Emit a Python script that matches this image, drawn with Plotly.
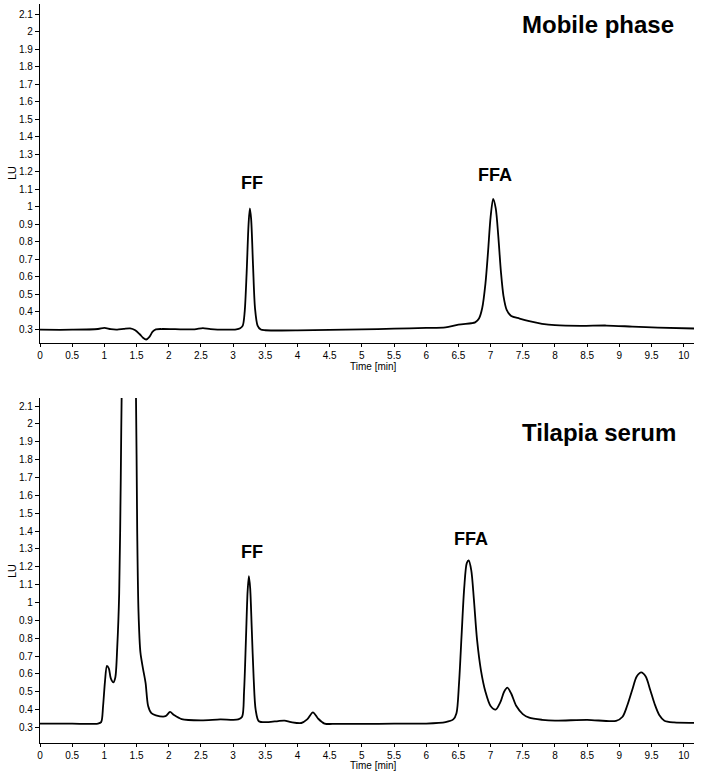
import plotly.graph_objects as go

# --- data (time in min, signal in LU) ---
t_mobile = [0, 0.5, 0.9, 1.0, 1.1, 1.2, 1.3, 1.4, 1.48, 1.55, 1.6, 1.65, 1.7, 1.75, 1.8,
            1.9, 2.1, 2.4, 2.53, 2.65, 2.9, 3.05, 3.11, 3.15, 3.18, 3.21, 3.24, 3.26,
            3.28, 3.31, 3.34, 3.38, 3.43, 3.5, 4.0, 4.5, 5.0, 5.5, 6.0, 6.3, 6.5, 6.7,
            6.76, 6.82, 6.87, 6.92, 6.96, 7.0, 7.04, 7.08, 7.12, 7.16, 7.2, 7.25, 7.32,
            7.45, 7.6, 7.8, 8.0, 8.4, 8.8, 9.2, 9.6, 10.16]
lu_mobile = [0.296, 0.296, 0.300, 0.306, 0.299, 0.297, 0.301, 0.304, 0.293, 0.270, 0.250,
             0.240, 0.255, 0.285, 0.298, 0.300, 0.299, 0.298, 0.305, 0.299, 0.296, 0.298,
             0.305, 0.320, 0.400, 0.620, 0.900, 0.990, 0.930, 0.660, 0.420, 0.320, 0.297,
             0.293, 0.292, 0.295, 0.298, 0.302, 0.306, 0.310, 0.325, 0.333, 0.338, 0.360,
             0.420, 0.560, 0.740, 0.940, 1.045, 0.990, 0.830, 0.630, 0.490, 0.410, 0.375,
             0.360, 0.345, 0.330, 0.322, 0.318, 0.320, 0.314, 0.308, 0.303]

t_serum = [0, 0.5, 0.9, 0.95, 0.98, 1.01, 1.04, 1.07, 1.1, 1.14, 1.17, 1.2, 1.23, 1.255,
           1.27, 1.33, 1.38, 1.44, 1.49, 1.51, 1.53, 1.56, 1.6, 1.64, 1.68, 1.73, 1.8,
           1.95, 2.02, 2.08, 2.2, 2.5, 2.8, 3.08, 3.14, 3.17, 3.2, 3.225, 3.245, 3.265,
           3.29, 3.32, 3.35, 3.4, 3.55, 3.7, 3.8, 3.9, 4.06, 4.15, 4.24, 4.32, 4.42, 4.6,
           5.0, 5.5, 6.0, 6.3, 6.42, 6.47, 6.51, 6.55, 6.59, 6.63, 6.66, 6.7, 6.74, 6.79,
           6.85, 6.92, 7.0, 7.08, 7.15, 7.21, 7.26, 7.32, 7.4, 7.5, 7.6, 7.8, 8.0, 8.5,
           8.95, 9.05, 9.12, 9.2, 9.27, 9.34, 9.41, 9.48, 9.55, 9.62, 9.7, 9.85, 10.16]
lu_serum = [0.322, 0.321, 0.322, 0.330, 0.420, 0.560, 0.645, 0.630, 0.575, 0.553, 0.580,
            0.750, 1.050, 1.700, 2.200, 3.200, 3.400, 3.100, 2.200, 1.400, 0.950, 0.720,
            0.630, 0.550, 0.420, 0.380, 0.368, 0.363, 0.387, 0.370, 0.347, 0.340, 0.345,
            0.345, 0.360, 0.500, 0.800, 1.060, 1.148, 1.080, 0.850, 0.570, 0.400, 0.335,
            0.330, 0.336, 0.338, 0.330, 0.325, 0.345, 0.385, 0.350, 0.322, 0.320, 0.320,
            0.321, 0.322, 0.330, 0.345, 0.380, 0.550, 0.820, 1.080, 1.220, 1.235, 1.180,
            1.020, 0.790, 0.620, 0.500, 0.420, 0.400, 0.440, 0.500, 0.523, 0.490, 0.420,
            0.375, 0.355, 0.343, 0.338, 0.343, 0.337, 0.360, 0.420, 0.510, 0.585, 0.608,
            0.585, 0.510, 0.430, 0.370, 0.338, 0.328, 0.326]

x_ticks = [0, 0.5, 1, 1.5, 2, 2.5, 3, 3.5, 4, 4.5, 5, 5.5, 6, 6.5, 7, 7.5, 8, 8.5, 9, 9.5, 10]
x_labels = ["0", "0.5", "1", "1.5", "2", "2.5", "3", "3.5", "4", "4.5", "5", "5.5",
            "6", "6.5", "7", "7.5", "8", "8.5", "9", "9.5", "10"]
y_ticks = [0.3, 0.4, 0.5, 0.6, 0.7, 0.8, 0.9, 1.0, 1.1, 1.2, 1.3, 1.4, 1.5, 1.6, 1.7,
           1.8, 1.9, 2.0, 2.1]
y_labels = ["0.3", "0.4", "0.5", "0.6", "0.7", "0.8", "0.9", "1", "1.1", "1.2", "1.3",
            "1.4", "1.5", "1.6", "1.7", "1.8", "1.9", "2", "2.1"]

W, H = 708, 773
FONT = "Liberation Sans, Arial, sans-serif"


def px(x):
    return x / W


def py(y):
    return 1 - y / H


fig = go.Figure()
fig.add_trace(go.Scatter(x=t_mobile, y=lu_mobile, mode="lines", xaxis="x", yaxis="y",
                         line=dict(color="black", width=1.8, shape="spline", smoothing=0.8)))
fig.add_trace(go.Scatter(x=t_serum, y=lu_serum, mode="lines", xaxis="x2", yaxis="y2",
                         line=dict(color="black", width=1.8, shape="spline", smoothing=0.8)))

xax = dict(range=[0, 10.16], tickvals=x_ticks, ticktext=x_labels, ticks="outside",
           ticklen=3, tickwidth=1, tickcolor="black", showline=True, linecolor="black",
           linewidth=1.2, showgrid=False, zeroline=False, automargin=False,
           tickfont=dict(family=FONT, size=10, color="black"))
yax = dict(tickvals=y_ticks, ticktext=y_labels, ticks="outside", ticklen=4, tickwidth=1,
           tickcolor="black", showline=True, linecolor="black", linewidth=1.2,
           showgrid=False, zeroline=False, automargin=False,
           tickfont=dict(family=FONT, size=10, color="black"))

fig.update_layout(
    width=W, height=H,
    margin=dict(l=0, r=0, t=0, b=0),
    paper_bgcolor="white", plot_bgcolor="white",
    showlegend=False,
    xaxis=dict(xax, domain=[px(40), px(694)], anchor="y"),
    yaxis=dict(yax, domain=[py(343), py(4)], range=[0.22, 2.16], anchor="x"),
    xaxis2=dict(xax, domain=[px(40), px(694)], anchor="y2"),
    yaxis2=dict(yax, domain=[py(743), py(398)], range=[0.213, 2.145], anchor="x2"),
)

ann = []
# panel titles
ann.append(dict(text="<b>Mobile phase</b>", x=px(598), y=py(25), xref="paper", yref="paper",
                xanchor="center", yanchor="middle", showarrow=False,
                font=dict(family=FONT, size=24, color="black")))
ann.append(dict(text="<b>Tilapia serum</b>", x=px(599), y=py(432), xref="paper", yref="paper",
                xanchor="center", yanchor="middle", showarrow=False,
                font=dict(family=FONT, size=24, color="black")))
# peak labels
for txt, x, y, xr, yr in [("FF", 3.29, 1.134, "x", "y"), ("FFA", 7.07, 1.18, "x", "y"),
                          ("FF", 3.29, 1.284, "x2", "y2"), ("FFA", 6.69, 1.358, "x2", "y2")]:
    ann.append(dict(text=f"<b>{txt}</b>", x=x, y=y, xref=xr, yref=yr, showarrow=False,
                    xanchor="center", yanchor="middle",
                    font=dict(family=FONT, size=18, color="black")))
# axis titles
for ytitle, xtitle in [(173, 366), (571, 765)]:
    ann.append(dict(text="LU", x=px(12), y=py(ytitle), xref="paper", yref="paper",
                    xanchor="center", yanchor="middle", showarrow=False, textangle=-90,
                    font=dict(family=FONT, size=11, color="black")))
    ann.append(dict(text="Time [min]", x=px(373), y=py(xtitle), xref="paper", yref="paper",
                    xanchor="center", yanchor="middle", showarrow=False,
                    font=dict(family=FONT, size=10, color="black")))
fig.update_layout(annotations=ann)

# drop the browser's default 8px body margin so the figure fills the window
fig.write_html("out.html", config={"displayModeBar": False},
               post_script="document.body.style.margin='0';")
